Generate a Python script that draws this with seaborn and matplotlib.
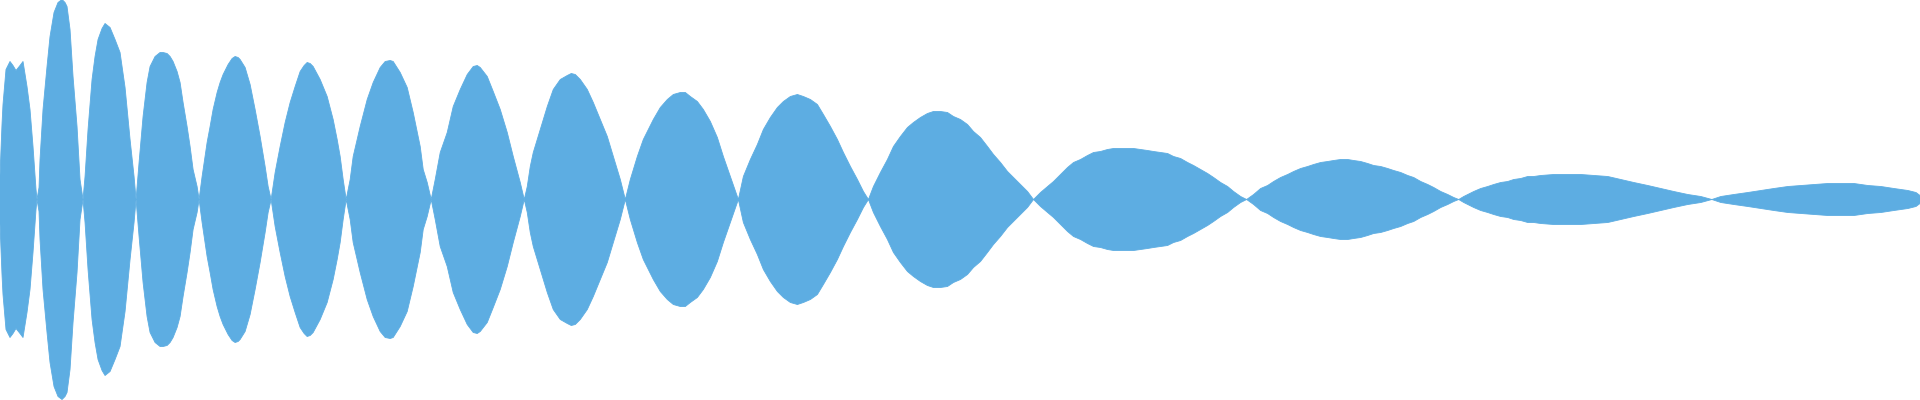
import numpy as np
import pandas as pd
import matplotlib
matplotlib.use("Agg")
import matplotlib.pyplot as plt
import seaborn as sns

# sample position (pixel column) of each envelope reading
time_px = [
    0, 1, 2, 3, 6, 10, 13, 16, 20, 23, 27, 30, 33, 36, 37,
    39, 40, 43, 47, 50, 54, 58, 62, 65, 67, 70, 73, 77, 80, 83,
    85, 88, 92, 95, 98, 102, 105, 110, 115, 120, 125, 130, 134, 136,
    139, 143, 147, 150, 155, 160, 163, 167, 170, 173, 177, 180, 183, 187, 190, 193, 197, 199,
    202, 207, 210, 213, 217, 220, 223, 228, 232, 235, 238, 240, 245, 250, 255, 260, 265, 268, 271,
    275, 280, 285, 290, 295, 300, 304, 307, 310, 313, 320, 327, 333, 337, 340, 343, 346,
    350, 353, 357, 360, 367, 373, 380, 385, 390, 393, 400, 407, 413, 420, 423, 427, 431,
    435, 440, 447, 453, 460, 467, 473, 477, 480, 487, 493, 500, 507, 513, 520, 524,
    527, 530, 533, 540, 547, 553, 560, 567, 571, 575, 580, 587, 593, 600, 607, 613, 620, 625,
    630, 637, 643, 647, 653, 660, 667, 673, 680, 685, 690, 697, 703, 710, 717, 723, 730, 738,
    743, 750, 757, 763, 770, 777, 783, 790, 797, 803, 810, 817, 823, 830, 837, 843, 850, 857, 863, 868,
    873, 880, 887, 893, 900, 907, 913, 920, 927, 933, 940, 947, 953, 960, 967, 973, 980, 987, 993,
    1000, 1007, 1013, 1020, 1027, 1033,
    1040, 1047, 1053, 1060, 1067, 1073, 1080, 1087, 1093, 1100, 1107, 1113, 1123, 1133, 1140, 1147,
    1153, 1160, 1167, 1173, 1180, 1187, 1193, 1200, 1207, 1213, 1220, 1227, 1233, 1240, 1246,
    1253, 1260, 1267, 1273, 1280, 1287, 1293, 1300, 1307, 1313, 1320, 1327, 1333, 1340, 1347, 1353,
    1360, 1367, 1373, 1380, 1387, 1393, 1400, 1407, 1413, 1420, 1427, 1433, 1440, 1447, 1453, 1458,
    1463, 1467, 1473, 1480, 1487, 1493, 1500, 1507, 1513, 1520, 1527, 1533, 1540, 1553, 1567, 1580,
    1593, 1607, 1620, 1633, 1647, 1660, 1673, 1687, 1700, 1711,
    1720, 1733, 1747, 1760, 1773, 1787, 1800, 1813, 1827, 1840, 1853, 1867, 1880, 1893, 1907, 1915, 1919,
]

# half height of the waveform at each reading
amplitude = [
    24, 50, 75, 95, 130, 138, 134, 129, 134, 138, 113, 90, 53, 10, 0,
    12, 40, 90, 133, 163, 187, 197, 200, 197, 193, 170, 123, 73, 20, 0,
    23, 70, 120, 143, 160, 171, 176, 172, 160, 147, 112, 60, 23, 0,
    37, 83, 117, 133, 143, 147, 147, 146, 143, 138, 128, 117, 97, 73, 53, 30, 13, 0,
    23, 57, 73, 90, 107, 117, 125, 135, 141, 143, 142, 140, 132, 115, 90, 63, 33, 13, 0,
    27, 53, 77, 97, 113, 128, 134, 137, 136, 133, 120, 103, 80, 60, 43, 20, 0,
    20, 43, 60, 73, 100, 117, 132, 138, 139, 138, 127, 112, 87, 53, 30, 17, 0,
    20, 47, 67, 93, 110, 125, 133, 134, 132, 123, 108, 90, 67, 43, 17, 0,
    13, 33, 47, 70, 93, 110, 120, 124, 126, 125, 120, 110, 97, 80, 63, 43, 20, 0,
    20, 43, 60, 68, 80, 92, 100, 105, 107, 107, 103, 98, 90, 78, 62, 43, 23, 0,
    23, 40, 55, 70, 82, 92, 98, 103, 105, 103, 100, 95, 85, 73, 60, 47, 33, 20, 8, 0,
    13, 27, 40, 53, 63, 72, 77, 82, 86, 88, 88, 87, 83, 80, 75, 68, 62, 53, 45,
    37, 28, 22, 15, 8, 0,
    7, 13, 18, 25, 32, 37, 40, 44, 47, 48, 50, 51, 51, 51, 50, 49,
    48, 47, 46, 43, 41, 37, 34, 30, 26, 22, 17, 13, 8, 3, 0,
    5, 11, 14, 18, 22, 25, 28, 31, 33, 35, 37, 38, 39, 40, 40, 39,
    38, 36, 34, 33, 31, 29, 27, 24, 22, 18, 15, 12, 8, 5, 2, 0,
    3, 5, 8, 11, 13, 15, 17, 18, 20, 21, 23, 23, 24, 25, 25, 25,
    24, 23, 20, 17, 14, 11, 8, 5, 3, 0,
    3, 5, 7, 9, 11, 13, 14, 15, 16, 16, 16, 14, 13, 11, 9, 7, 4,
]

WAVE_COLOR = '#5DADE2'


def plot_waveform(fig_name='out.png'):
    sns.set_style('white')
    wave = pd.DataFrame({'t': time_px, 'amp': amplitude})
    wave['low'] = -wave['amp']

    fig = plt.figure(figsize=(19.2, 4), dpi=100)
    ax = fig.add_axes([0, 0, 1, 1])

    ax.fill_between(wave['t'], wave['low'], wave['amp'],
                    color=WAVE_COLOR, lw=0)
    # thin outline keeps the edges crisp
    sns.lineplot(data=wave, x='t', y='amp', color=WAVE_COLOR, lw=0.6,
                 sort=False, estimator=None, ax=ax)
    sns.lineplot(data=wave, x='t', y='low', color=WAVE_COLOR, lw=0.6,
                 sort=False, estimator=None, ax=ax)

    ax.set_xlim(0, 1919)
    ax.set_ylim(-200.5, 199.5)
    ax.axis('off')

    fig.savefig(fig_name, dpi=100, facecolor='white')


def main():
    assert len(time_px) == len(amplitude)
    plot_waveform()


if __name__ == '__main__':
    main()
